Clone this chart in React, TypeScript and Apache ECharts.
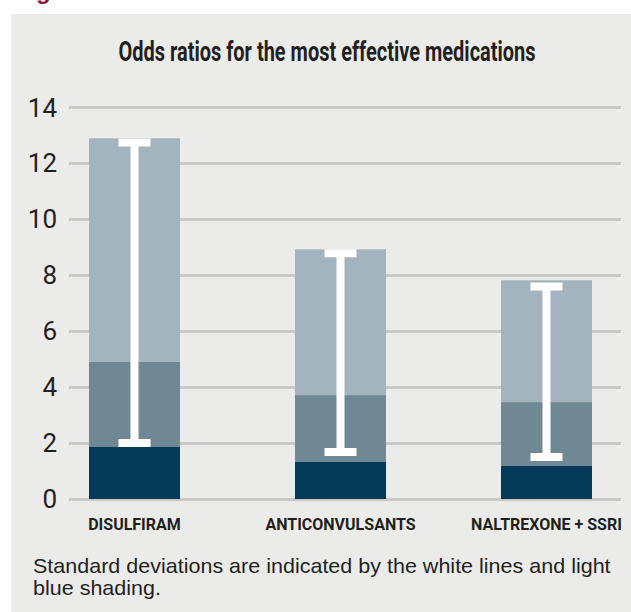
import React, { useEffect, useRef } from "react";
import * as echarts from "echarts";

const categories = ["DISULFIRAM", "ANTICONVULSANTS", "NALTREXONE + SSRI"];
const darkValues = [1.86, 1.32, 1.18];
const midValues = [4.9, 3.71, 3.46];
const lightValues = [12.9, 8.93, 7.82];
const sdLow = [2.0, 1.68, 1.5];
const sdHigh = [12.75, 8.79, 7.6];
const yMin = 0;
const yMax = 14;
const yStep = 2;

const titleText = "Odds ratios for the most effective medications";
const noteText =
  "Standard deviations are indicated by the white lines and light\nblue shading.";

const COND = 'Roboto, "Liberation Sans", sans-serif';

export default function App() {
  const ref = useRef<HTMLDivElement>(null);

  useEffect(() => {
    document.body.style.margin = "0";
    if (!ref.current) return;
    const chart = echarts.init(ref.current, null, { renderer: "svg" });

    const errData = categories.map((_, i) => [i, sdLow[i], sdHigh[i]]);

    const option: any = {
      animation: false,
      backgroundColor: "#ffffff",
      graphic: [
        {
          type: "rect",
          z: -10,
          shape: { x: 11, y: 14, width: 620, height: 598 },
          style: { fill: "#EBECEA" },
        },
        {
          type: "text",
          x: 36,
          y: -10,
          style: {
            text: "g",
            font: 'bold 24px "Liberation Sans", sans-serif',
            fill: "#8E1B3D",
            align: "left",
            verticalAlign: "middle",
          },
        },
        {
          type: "text",
          x: 327,
          y: 52,
          scaleX: 0.74,
          style: {
            text: titleText,
            font: `bold 27px ${COND}`,
            fill: "#231F20",
            align: "center",
            verticalAlign: "middle",
            textAlign: "center",
            textVerticalAlign: "middle",
          },
        },
        {
          type: "text",
          x: 33,
          y: 555,
          scaleX: 1.076,
          style: {
            text: noteText,
            font: '20px "Liberation Sans", Arial, sans-serif',
            lineHeight: 22,
            fill: "#231F20",
            align: "left",
            verticalAlign: "top",
          },
        },
      ],
      grid: [
        { left: 69, right: 10, top: 107.5, bottom: 113 },
        { left: 134.5, right: 84.5, top: 107.5, bottom: 113 },
      ],
      xAxis: [
        {
          gridIndex: 0,
          type: "category",
          data: categories,
          show: false,
        },
        {
          gridIndex: 1,
          type: "category",
          data: categories,
          boundaryGap: false,
          axisLine: { show: false },
          axisTick: { show: false },
          splitLine: { show: false },
          axisLabel: {
            interval: 0,
            margin: 17,
            color: "#231F20",
            fontFamily: COND,
            fontWeight: "bold",
            fontSize: 16,
          },
        },
      ],
      yAxis: [
        {
          gridIndex: 0,
          type: "value",
          min: yMin,
          max: yMax,
          interval: yStep,
          axisLine: { show: false },
          axisTick: { show: false },
          axisLabel: {
            margin: 12,
            color: "#231F20",
            fontFamily: COND,
            fontSize: 26,
          },
          splitLine: { lineStyle: { color: "#C9CAC7", width: 3 } },
        },
        {
          gridIndex: 1,
          type: "value",
          min: yMin,
          max: yMax,
          interval: yStep,
          show: false,
          splitLine: { show: false },
        },
      ],
      series: [
        {
          type: "bar",
          xAxisIndex: 1,
          yAxisIndex: 1,
          data: lightValues,
          barWidth: 91,
          barGap: "-100%",
          clip: false,
          itemStyle: { color: "#A4B4BE" },
          z: 2,
        },
        {
          type: "bar",
          xAxisIndex: 1,
          yAxisIndex: 1,
          data: midValues,
          barWidth: 91,
          barGap: "-100%",
          clip: false,
          itemStyle: { color: "#708893" },
          z: 3,
        },
        {
          type: "bar",
          xAxisIndex: 1,
          yAxisIndex: 1,
          data: darkValues,
          barWidth: 91,
          barGap: "-100%",
          clip: false,
          itemStyle: { color: "#043A58" },
          z: 4,
        },
        {
          type: "custom",
          xAxisIndex: 1,
          yAxisIndex: 1,
          z: 10,
          clip: false,
          data: errData,
          encode: { x: 0, y: [1, 2] },
          renderItem: (params: any, api: any) => {
            const idx = api.value(0);
            const lo = api.coord([idx, api.value(1)]);
            const hi = api.coord([idx, api.value(2)]);
            const style = { fill: "#FFFFFF" };
            return {
              type: "group",
              children: [
                {
                  type: "rect",
                  shape: { x: lo[0] - 4, y: hi[1], width: 8, height: lo[1] - hi[1] },
                  style,
                },
                {
                  type: "rect",
                  shape: { x: hi[0] - 16, y: hi[1] - 4, width: 32, height: 8 },
                  style,
                },
                {
                  type: "rect",
                  shape: { x: lo[0] - 16, y: lo[1] - 4, width: 32, height: 8 },
                  style,
                },
              ],
            };
          },
        },
      ],
    };

    chart.setOption(option);
    return () => chart.dispose();
  }, []);

  return (
    <div
      ref={ref}
      style={{ position: "absolute", left: 0, top: 0, width: 631, height: 612 }}
    />
  );
}
